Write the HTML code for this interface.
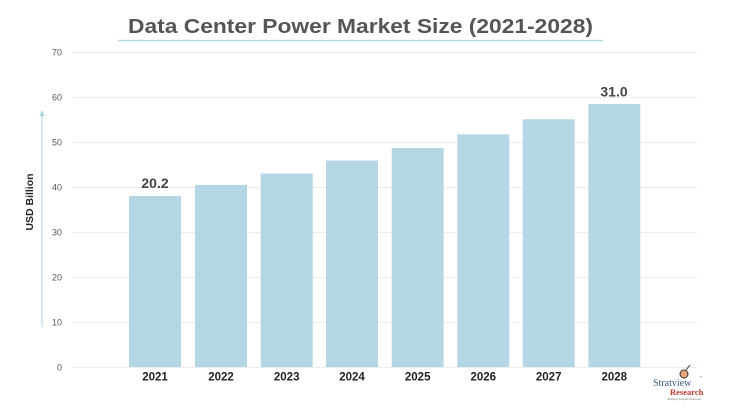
<!DOCTYPE html>
<html><head><meta charset="utf-8"><style>
html,body{margin:0;padding:0;background:#fff;}
svg{display:block;}
</style></head><body>
<svg width="731" height="420" viewBox="0 0 731 420" xmlns="http://www.w3.org/2000/svg" font-family="'Liberation Sans', sans-serif">
<rect width="731" height="420" fill="#fff"/>
<text x="360.5" y="33" text-anchor="middle" font-size="20" font-weight="bold" fill="#555" textLength="465" lengthAdjust="spacingAndGlyphs">Data Center Power Market Size (2021-2028)</text>
<line x1="118" y1="40.5" x2="603" y2="40.5" stroke="#a6dbe0" stroke-width="1.2"/>
<g stroke="#ececec" stroke-width="1">
<line x1="73" y1="52.5" x2="697" y2="52.5"/>
<line x1="73" y1="97.5" x2="697" y2="97.5"/>
<line x1="73" y1="142.5" x2="697" y2="142.5"/>
<line x1="73" y1="187.5" x2="697" y2="187.5"/>
<line x1="73" y1="232.5" x2="697" y2="232.5"/>
<line x1="73" y1="277.5" x2="697" y2="277.5"/>
<line x1="73" y1="322.5" x2="697" y2="322.5"/>
<line x1="73" y1="367.5" x2="697" y2="367.5"/>
</g>
<g font-size="9" fill="#555" text-anchor="end">
<text x="62" y="55.5">70</text>
<text x="62" y="100.5">60</text>
<text x="62" y="145.5">50</text>
<text x="62" y="190.5">40</text>
<text x="62" y="235.5">30</text>
<text x="62" y="280.5">20</text>
<text x="62" y="325.5">10</text>
<text x="62" y="370.5">0</text>
</g>
<line x1="42" y1="114" x2="42" y2="327" stroke="#a9d4e2" stroke-width="1"/>
<polygon points="42,110 39.5,116 44.5,116" fill="#a9d4e2"/>
<text transform="translate(33,202) rotate(-90)" text-anchor="middle" font-size="10" font-weight="bold" fill="#222" textLength="57" lengthAdjust="spacingAndGlyphs">USD Billion</text>
<g fill="#b5d6e5">
<rect x="129" y="196" width="52" height="171"/>
<rect x="195" y="185" width="52" height="182"/>
<rect x="260.7" y="173.5" width="52" height="193.5"/>
<rect x="326" y="160.5" width="52" height="206.5"/>
<rect x="391.7" y="148" width="52" height="219"/>
<rect x="457.3" y="134.3" width="52" height="232.7"/>
<rect x="522.7" y="119.3" width="52" height="247.7"/>
<rect x="588.3" y="104" width="52" height="263"/>
</g>
<text x="155" y="188" text-anchor="middle" font-size="14" font-weight="bold" fill="#444">20.2</text>
<text x="614" y="96.5" text-anchor="middle" font-size="14" font-weight="bold" fill="#444">31.0</text>
<g font-size="11.5" font-weight="bold" fill="#222" text-anchor="middle">
<text x="155" y="380.5">2021</text>
<text x="221" y="380.5">2022</text>
<text x="286.7" y="380.5">2023</text>
<text x="352" y="380.5">2024</text>
<text x="417.7" y="380.5">2025</text>
<text x="483.3" y="380.5">2026</text>
<text x="548.7" y="380.5">2027</text>
<text x="614.3" y="380.5">2028</text>
</g>
<circle cx="684" cy="374" r="4" fill="#e9a27a" stroke="#333" stroke-width="1"/>
<line x1="686" y1="370" x2="690" y2="365" stroke="#333" stroke-width="1"/>
<text x="653" y="386" font-family="'Liberation Serif', serif" font-size="10" fill="#3b5a8a">Stratview</text>
<text x="699" y="378" font-size="3" fill="#666">™</text>
<text x="670" y="395" font-family="'Liberation Serif', serif" font-size="8.5" font-weight="bold" fill="#c0392b">Research</text>
<text x="667" y="400" font-size="2.8" fill="#777">Strategic Insights Delivered</text>
</svg>
</body></html>
